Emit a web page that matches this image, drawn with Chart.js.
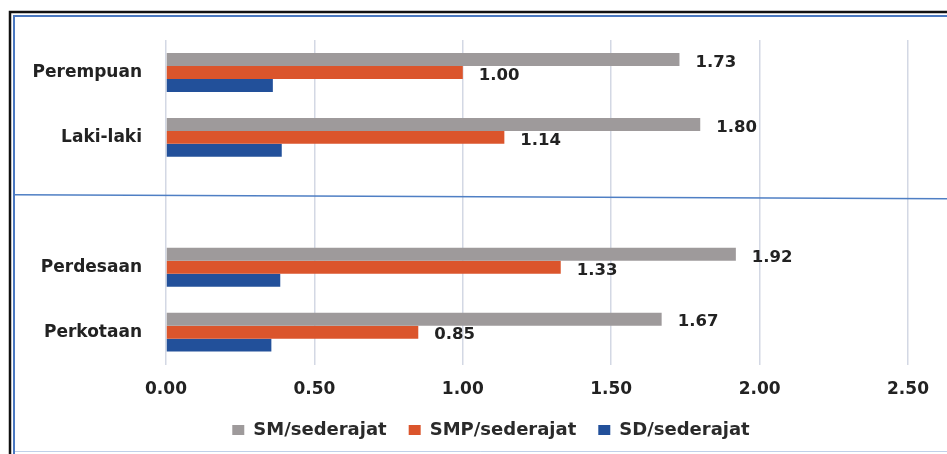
<!DOCTYPE html>
<html>
<head>
<meta charset="utf-8">
<script src="https://cdn.jsdelivr.net/npm/chart.js@4/dist/chart.umd.min.js"></script>
<style>
  html, body { margin: 0; padding: 0; background: #ffffff; }
  #wrap { width: 947px; height: 454px; position: relative; }
</style>
</head>
<body>
<div id="wrap"><canvas id="c" width="947" height="454"></canvas></div>
<script>
// Categories (the blank entry keeps a gap between the two groups)
const categories = ['Perempuan', 'Laki-laki', '', 'Perdesaan', 'Perkotaan'];

// Series values
const smValues  = [1.73, 1.80, null, 1.92, 1.67];
const smpValues = [1.00, 1.14, null, 1.33, 0.85];
const sdValues  = [0.36, 0.39, null, 0.385, 0.355];

// Axis ticks
const xTicks = [0, 0.5, 1.0, 1.5, 2.0, 2.5];

const FONT = "'DejaVu Sans', Verdana, sans-serif";
const TEXT = '#222222';

// Frame around the chart and the divider through the blank category
const framePlugin = {
  id: 'frame',
  beforeDraw(chart) {
    const ctx = chart.ctx;
    const W = chart.width, H = chart.height;
    ctx.save();
    ctx.lineCap = 'butt';
    ctx.strokeStyle = '#111111';
    ctx.lineWidth = 2.5;
    ctx.beginPath();
    ctx.moveTo(10, H); ctx.lineTo(10, 12); ctx.lineTo(W, 12);
    ctx.stroke();
    ctx.strokeStyle = '#4a78c0';
    ctx.lineWidth = 2;
    ctx.beginPath();
    ctx.moveTo(14, H); ctx.lineTo(14, 16); ctx.lineTo(W, 16);
    ctx.stroke();
    ctx.strokeStyle = 'rgba(74,120,192,0.35)';
    ctx.lineWidth = 1;
    ctx.beginPath();
    ctx.moveTo(14, H - 2.5); ctx.lineTo(W, H - 2.5);
    ctx.stroke();
    ctx.restore();
  },
  afterDatasetsDraw(chart) {
    const ctx = chart.ctx;
    const y = chart.scales.y.getPixelForValue(2);
    ctx.save();
    ctx.strokeStyle = '#4f7fc4';
    ctx.lineWidth = 1.5;
    ctx.beginPath();
    ctx.moveTo(15, y - 7.5);
    ctx.lineTo(chart.width, y - 3.5);
    ctx.stroke();
    ctx.restore();
  }
};

// Legend sits closer to the axis and a little right of centre
const legendPlace = {
  id: 'legendPlace',
  beforeLayout(chart) {
    const lg = chart.legend;
    if (lg && !lg.__compact) {
      const fit = lg.fit;
      lg.fit = function () { fit.call(this); this.height = 39; };
      lg.__compact = true;
    }
  },
  afterLayout(chart) {
    const lg = chart.legend;
    if (!lg) return;
    lg.top -= 16;
    lg.bottom = chart.height;
    lg.left += 30; lg.right += 30;
  }
};

// Value labels at the end of the SM and SMP bars
const valueLabels = {
  id: 'valueLabels',
  afterDatasetsDraw(chart) {
    const ctx = chart.ctx;
    ctx.save();
    ctx.font = "bold 16.5px " + FONT;
    ctx.fillStyle = TEXT;
    ctx.textAlign = 'left';
    ctx.textBaseline = 'middle';
    [0, 1].forEach(di => {
      const meta = chart.getDatasetMeta(di);
      const data = chart.data.datasets[di].data;
      meta.data.forEach((bar, i) => {
        const v = data[i];
        if (v === null || v === undefined) return;
        ctx.fillText(v.toFixed(2), bar.x + 16, bar.y + 3);
      });
    });
    ctx.restore();
  }
};

new Chart(document.getElementById('c'), {
  type: 'bar',
  data: {
    labels: categories,
    datasets: [
      { label: 'SM/sederajat',  data: smValues,  backgroundColor: '#9e9a9b' },
      { label: 'SMP/sederajat', data: smpValues, backgroundColor: '#db552c' },
      { label: 'SD/sederajat',  data: sdValues,  backgroundColor: '#22509a' }
    ]
  },
  options: {
    indexAxis: 'y',
    responsive: false,
    animation: false,
    devicePixelRatio: 1,
    layout: { padding: { left: 14, right: 39, top: 40, bottom: 0 } },
    datasets: { bar: { categoryPercentage: 0.6, barPercentage: 1.0 } },
    scales: {
      x: {
        min: 0, max: 2.5,
        afterBuildTicks(scale) { scale.ticks = xTicks.map(v => ({ value: v })); },
        grid: { color: '#d3d8e4', lineWidth: 1.5, drawTicks: false },
        border: { display: false },
        ticks: {
          padding: 15,
          color: TEXT,
          font: { family: FONT, size: 17, weight: 'bold' },
          callback: v => Number(v).toFixed(2)
        }
      },
      y: {
        afterFit(scale) { scale.width = 152; },
        grid: { display: false, drawTicks: false },
        border: { display: false },
        ticks: {
          padding: 24,
          color: TEXT,
          font: { family: FONT, size: 17, weight: 'bold' }
        }
      }
    },
    plugins: {
      legend: {
        position: 'bottom',
        labels: {
          boxWidth: 12,
          boxHeight: 10,
          padding: 22,
          color: '#2a2a2a',
          font: { family: FONT, size: 18, weight: 'bold' }
        }
      },
      tooltip: { enabled: false }
    }
  },
  plugins: [framePlugin, legendPlace, valueLabels]
});
</script>
</body>
</html>
